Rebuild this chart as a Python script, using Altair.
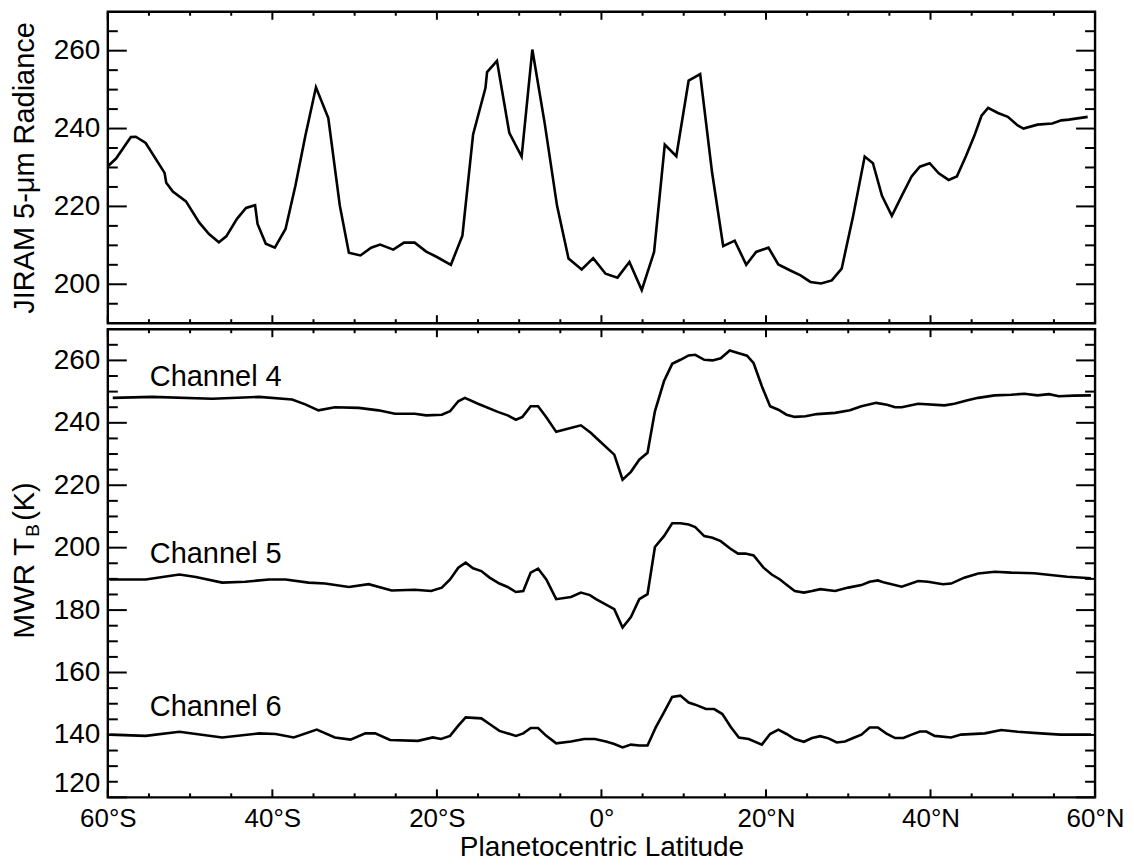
import altair as alt
import pandas as pd

# ---------------- data ----------------
jiram_lat = [-60.0, -59.0, -57.2, -56.6, -55.4, -53.1, -52.9, -52.1, -50.5, -48.9, -47.7, -46.5,
             -45.6, -44.3, -43.2, -42.1, -41.8, -40.8, -39.7, -38.4, -37.2, -36.0, -34.7, -33.2,
             -31.8, -30.7, -29.3, -28.0, -26.9, -25.3, -24.0, -22.7, -21.3, -20.0, -18.3, -16.9,
             -15.6, -14.1, -13.9, -12.7, -11.2, -9.7, -8.4, -6.9, -5.4, -4.0, -2.4, -1.0, 0.5,
             1.95, 3.4, 4.9, 6.4, 7.7, 9.1, 10.6, 12.0, 13.45, 14.8, 16.2, 17.6, 18.8, 20.3, 21.5,
             22.9, 24.2, 25.4, 26.7, 28.0, 29.2, 30.6, 32.0, 33.0, 34.1, 35.3, 36.5, 37.7, 38.7,
             39.9, 41.0, 42.2, 43.2, 44.3, 45.3, 46.2, 47.0, 48.2, 49.4, 50.6, 51.3, 53.0, 54.8,
             55.9, 56.8, 59.1]
jiram_val = [230.3, 232.3, 237.8, 237.9, 236.3, 228.6, 226.1, 223.8, 221.3, 215.9, 212.9, 210.8,
             212.3, 216.8, 219.6, 220.3, 215.5, 210.4, 209.4, 214.2, 225.3, 238.0, 250.6, 242.7,
             220.2, 208.1, 207.4, 209.4, 210.2, 208.9, 210.7, 210.7, 208.4, 207.0, 205.0, 212.5,
             238.5, 250.4, 254.5, 257.4, 238.9, 232.8, 260.3, 241.4, 220.2, 206.6, 203.8, 206.7, 202.7,
             201.7, 205.7, 198.5, 208.3, 235.9, 232.9, 252.3, 254.0, 228.7, 209.8, 211.2, 205.0, 208.3,
             209.4, 205.1, 203.6, 202.3, 200.6, 200.2, 201.0, 204.0, 217.6, 232.8, 231.1, 222.7, 217.6,
             222.7, 227.7, 230.2, 231.1, 228.5, 226.8, 227.7, 232.9, 238.0, 243.3, 245.3, 244.0, 243.0,
             240.8, 240.0, 241.0, 241.3, 242.1, 242.3, 243.0]

ch4_lat = [-59.4, -54.6, -47.3, -41.6, -37.6, -36.0, -34.4, -32.4, -29.5, -27.1, -25.1, -22.7,
           -21.3, -19.4, -18.4, -17.4, -16.6, -15.0, -12.6, -11.4, -10.4, -9.6, -8.6, -7.7, -6.7,
           -5.5, -4.1, -2.5, -1.3, -0.66, 1.56, 2.57, 3.58, 4.6, 5.6, 6.5, 7.6, 8.6, 9.6, 10.6, 11.4,
           12.5, 13.5, 14.5, 15.6, 16.7, 17.7, 18.5, 19.5, 20.5, 21.5, 22.5, 23.5, 24.8, 26.2, 28.4,
           30.2, 31.6, 33.4, 34.7, 35.7, 36.5, 38.5, 41.7, 42.9, 44.5, 45.8, 47.8, 49.8, 51.4, 53.0,
           54.4, 55.6, 57.4, 59.5]
ch4_val = [248.0, 248.3, 247.7, 248.3, 247.5, 245.9, 244.0, 245.0, 244.8, 244.0, 242.9, 242.9,
           242.4, 242.6, 243.7, 246.9, 248.0, 246.1, 243.5, 242.4, 241.0, 241.9, 245.3, 245.3, 241.8,
           237.1, 238.1, 239.2, 236.8, 235.2, 229.8, 221.8, 224.3, 228.2, 230.4, 243.7, 253.3, 258.9,
           260.2, 261.6, 261.8, 260.2, 260.0, 260.7, 263.2, 262.3, 261.5, 259.1, 251.7, 245.3, 244.2,
           242.6, 241.9, 242.1, 242.8, 243.2, 244.0, 245.3, 246.4, 245.8, 245.0, 245.0, 246.1, 245.6,
           246.1, 247.2, 248.0, 248.8, 249.0, 249.3, 248.8, 249.2, 248.5, 248.7, 248.8]

ch5_lat = [-59.8, -55.4, -51.3, -49.3, -46.1, -43.3, -40.4, -38.4, -35.6, -33.6, -30.7, -28.3,
           -25.5, -22.7, -20.7, -19.4, -18.4, -17.4, -16.5, -15.6, -14.6, -13.6, -12.4, -11.4,
           -10.4, -9.5, -8.6, -7.7, -6.7, -5.5, -3.7, -2.5, -1.4, -0.66, 1.56, 2.57, 3.58, 4.6, 5.6,
           6.5, 7.6, 8.6, 9.6, 10.6, 11.4, 12.5, 13.5, 14.5, 15.6, 16.6, 17.5, 18.5, 19.7, 20.7,
           21.7, 22.7, 23.5, 24.6, 25.6, 26.6, 28.4, 30.0, 31.6, 32.6, 33.6, 34.4, 36.5, 38.5, 39.7,
           41.5, 42.5, 44.1, 45.8, 47.8, 49.8, 52.6, 56.6, 59.5]
ch5_val = [189.8, 189.8, 191.4, 190.6, 188.8, 189.1, 189.8, 189.8, 188.8, 188.5, 187.4, 188.3,
           186.3, 186.5, 186.1, 187.2, 189.8, 193.6, 195.2, 193.4, 192.5, 190.4, 188.5, 187.4,
           185.8, 186.1, 192.0, 193.3, 189.8, 183.5, 184.2, 185.6, 184.8, 183.5, 180.3, 174.4, 177.8,
           183.5, 185.1, 200.2, 203.7, 207.8, 207.8, 207.4, 206.6, 203.7, 203.2, 202.1, 199.8, 198.1,
           198.1, 197.5, 193.6, 191.4, 189.8, 187.7, 186.1, 185.6, 186.1, 186.7, 186.1, 187.2, 188.0,
           189.1, 189.5, 188.8, 187.5, 189.3, 189.1, 188.3, 188.5, 190.4, 191.7, 192.3, 192.0, 191.8,
           190.7, 190.2]

ch6_lat = [-59.8, -55.4, -51.3, -46.1, -41.6, -39.6, -37.4, -34.6, -32.4, -30.5, -28.7, -27.5,
           -25.7, -22.3, -20.5, -19.5, -18.4, -17.4, -16.5, -14.6, -13.6, -12.4, -10.4, -9.5, -8.6,
           -7.7, -6.7, -5.5, -3.7, -2.1, -0.8, 0.55, 1.56, 2.57, 3.58, 4.6, 5.6, 6.6, 7.6, 8.6, 9.6,
           10.6, 11.4, 12.7, 13.7, 14.7, 15.7, 16.7, 17.9, 19.5, 20.5, 21.5, 22.5, 23.5, 24.6, 25.6,
           26.6, 27.6, 28.6, 29.6, 30.6, 31.6, 32.6, 33.6, 34.6, 35.7, 36.7, 37.7, 38.7, 39.5, 40.5,
           42.5, 43.7, 46.6, 48.6, 50.6, 53.4, 55.8, 59.5]
ch6_val = [140.1, 139.7, 141.0, 139.2, 140.5, 140.3, 139.2, 141.7, 139.2, 138.5, 140.5, 140.5,
           138.4, 138.1, 139.2, 138.7, 139.7, 143.0, 145.6, 145.3, 143.5, 141.3, 139.7, 140.5, 142.2,
           142.2, 139.7, 137.3, 137.9, 138.7, 138.7, 137.9, 137.1, 136.0, 136.9, 136.6, 136.6, 142.4,
           147.2, 152.2, 152.6, 150.4, 149.7, 148.3, 148.3, 146.7, 142.6, 139.2, 138.7, 136.9, 140.3,
           141.7, 140.3, 138.7, 137.8, 139.0, 139.6, 138.9, 137.6, 137.9, 139.0, 140.1, 142.4, 142.4,
           140.5, 139.0, 139.0, 140.1, 141.1, 141.1, 139.7, 139.2, 140.1, 140.5, 141.6, 141.0, 140.5,
           140.1, 140.1]

channel_names = ["Channel 4", "Channel 5", "Channel 6"]
channel_label_lat = [-54.9, -54.9, -54.9]
channel_label_val = [251.9, 195.1, 146.0]

x_major = [-60, -40, -20, 0, 20, 40, 60]
x_minor = [v for v in range(-60, 61, 5) if v % 20 != 0]
top_major = [200, 220, 240, 260]
top_minor = [195, 205, 210, 215, 225, 230, 235, 245, 250, 255, 265]
bot_major = [120, 140, 160, 180, 200, 220, 240, 260]
bot_minor = [v for v in range(125, 270, 5) if v % 20 != 0]

TOP_DOMAIN = [190, 270]
BOT_DOMAIN = [120, 270]

W = 989
H_TOP = 312
H_BOT = 469
FONT = "Liberation Sans"
LW = 2.6

xscale = alt.Scale(domain=[-60, 60], nice=False, zero=False)


def tick_layers(xaxis, yscale, yaxis, ymaj, ymin, h):
    layers = []
    for vals, ln in ((x_major, 8), (x_minor, 4)):
        df = pd.DataFrame({"lat": vals})
        base = alt.Chart(df).mark_rule(color="black", strokeWidth=2)
        layers.append(base.encode(x=alt.X("lat:Q", scale=xscale, axis=xaxis),
                                  y=alt.value(0), y2=alt.value(ln)))
        layers.append(base.encode(x=alt.X("lat:Q", scale=xscale, axis=xaxis),
                                  y=alt.value(h), y2=alt.value(h - ln)))
    for vals, ln in ((ymaj, 19), (ymin, 10)):
        df = pd.DataFrame({"val": vals})
        base = alt.Chart(df).mark_rule(color="black", strokeWidth=2)
        layers.append(base.encode(y=alt.Y("val:Q", scale=yscale, axis=yaxis),
                                  x=alt.value(0), x2=alt.value(ln)))
        layers.append(base.encode(y=alt.Y("val:Q", scale=yscale, axis=yaxis),
                                  x=alt.value(W), x2=alt.value(W - ln)))
    return layers


# ---------------- top panel ----------------
top_scale = alt.Scale(domain=TOP_DOMAIN, nice=False, zero=False)
top_yaxis = alt.Axis(values=top_major, ticks=False, domain=False, grid=False,
                     labelFontSize=28, labelFont=FONT, labelColor="black",
                     labelPadding=8, title="JIRAM 5-\u03bcm Radiance",
                     titleFont=FONT, titleFontSize=29, titleFontWeight="normal",
                     titleColor="black", titleX=-74, titleBaseline="alphabetic")
jiram_df = pd.DataFrame({"lat": jiram_lat, "val": jiram_val})
top_line = alt.Chart(jiram_df).mark_line(color="black", strokeWidth=LW).encode(
    x=alt.X("lat:Q", scale=xscale, axis=None),
    y=alt.Y("val:Q", scale=top_scale, axis=top_yaxis),
)
top = alt.layer(top_line, *tick_layers(None, top_scale, top_yaxis, top_major, top_minor,
                                       H_TOP)).properties(width=W, height=H_TOP)

# ---------------- bottom panel ----------------
bot_scale = alt.Scale(domain=BOT_DOMAIN, nice=False, zero=False)
mwr_df = pd.concat([
    pd.DataFrame({"lat": ch4_lat, "val": ch4_val, "ch": "4"}),
    pd.DataFrame({"lat": ch5_lat, "val": ch5_val, "ch": "5"}),
    pd.DataFrame({"lat": ch6_lat, "val": ch6_val, "ch": "6"}),
])
label_expr = ("datum.value < 0 ? (-datum.value) + '\u00b0S' : "
              "(datum.value > 0 ? datum.value + '\u00b0N' : '0\u00b0')")
bot_xaxis = alt.Axis(values=x_major, labelExpr=label_expr, ticks=False, domain=False,
                     grid=False, labelFlush=False, labelOverlap=False,
                     labelFontSize=26, labelFont=FONT, labelColor="black",
                     labelPadding=8, title="Planetocentric Latitude", titleFont=FONT,
                     titleFontSize=28, titleFontWeight="normal", titleColor="black",
                     titlePadding=2)
bot_yaxis = alt.Axis(values=bot_major, ticks=False, domain=False, grid=False,
                     labelFontSize=28, labelFont=FONT, labelColor="black",
                     labelPadding=8, labelFlush=True, title="")
bot_lines = alt.Chart(mwr_df).mark_line(color="black", strokeWidth=LW).encode(
    x=alt.X("lat:Q", scale=xscale, axis=bot_xaxis),
    y=alt.Y("val:Q", scale=bot_scale, axis=bot_yaxis),
    detail="ch:N",
)
lab_df = pd.DataFrame({"lat": channel_label_lat, "val": channel_label_val, "name": channel_names})
bot_labels = alt.Chart(lab_df).mark_text(
    align="left", baseline="alphabetic", font=FONT, fontSize=29, color="black").encode(
    x=alt.X("lat:Q", scale=xscale, axis=bot_xaxis),
    y=alt.Y("val:Q", scale=bot_scale, axis=bot_yaxis),
    text="name:N",
)
# y-axis title with subscript B, built from three text pieces
ttl_main = alt.Chart(pd.DataFrame({"t": ["MWR T"]})).mark_text(
    angle=270, align="right", baseline="alphabetic", font=FONT, fontSize=30, color="black"
).encode(text="t:N", x=alt.value(-74), y=alt.value(209))
ttl_sub = alt.Chart(pd.DataFrame({"t": ["B"]})).mark_text(
    angle=270, align="left", baseline="alphabetic", font=FONT, fontSize=19, color="black"
).encode(text="t:N", x=alt.value(-69), y=alt.value(208))
ttl_end = alt.Chart(pd.DataFrame({"t": ["(K)"]})).mark_text(
    angle=270, align="left", baseline="alphabetic", font=FONT, fontSize=29, color="black"
).encode(text="t:N", x=alt.value(-74), y=alt.value(192))

bottom = alt.layer(bot_lines, bot_labels, ttl_main, ttl_sub, ttl_end,
                   *tick_layers(bot_xaxis, bot_scale, bot_yaxis, bot_major, bot_minor,
                                H_BOT)).properties(width=W, height=H_BOT)

chart = alt.vconcat(top, bottom, spacing=0).properties(
    padding={"left": 0, "top": 0, "right": 0, "bottom": 0}
).configure_view(stroke="black", strokeWidth=2.4)

chart.save("out.html", embed_options={"renderer": "svg", "actions": False})
